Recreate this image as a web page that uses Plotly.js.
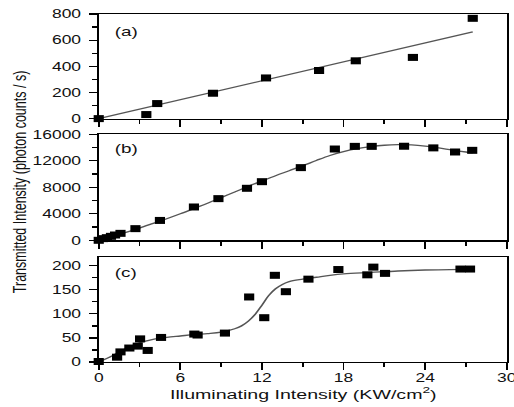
<!DOCTYPE html>
<html>
<head>
<meta charset="utf-8">
<script src="https://cdn.plot.ly/plotly-3.0.1.min.js"></script>
<style>
html,body{margin:0;padding:0;background:#fff;overflow:hidden;width:514px;height:407px;}
#plot{width:354px;height:407px;transform:scaleX(1.452);transform-origin:0 0;}
</style>
</head>
<body>
<div id="plot"></div>
<script>
// Panel (a)
const aX = [0, 3.5, 4.3, 8.4, 12.3, 16.2, 18.9, 23.1, 27.5];
const aY = [0, 31, 115, 194, 311, 368, 442, 468, 767];
const aFitX = [0, 27.5];
const aFitY = [0, 664];

// Panel (b)
const bX = [0, 0.3, 0.6, 0.9, 1.2, 1.6, 2.7, 4.5, 7.0, 8.8, 10.9, 12.0, 14.86, 17.36, 18.83, 20.07, 22.45, 24.6, 26.2, 27.46];
const bY = [0, 250, 400, 600, 800, 1050, 1760, 3000, 5030, 6290, 7850, 8850, 10970, 13780, 14180, 14180, 14200, 13950, 13330, 13580];
const bFitX = [0, 1, 2, 3, 4, 5, 6, 7, 8, 9, 10, 11, 12, 13, 14, 15, 16, 17, 18, 19, 20, 21, 22, 23, 24, 25, 26, 27, 27.5];
const bFitY = [0, 600, 1200, 1850, 2550, 3250, 4000, 4800, 5600, 6450, 7300, 8150, 8950, 9750, 10500, 11250, 12050, 12800, 13400, 13850, 14150, 14350, 14430, 14400, 14230, 13950, 13620, 13330, 13200];

// Panel (c)
const cX = [0, 1.35, 1.6, 2.25, 2.87, 3.04, 3.6, 4.58, 7.03, 7.27, 9.28, 11.06, 12.17, 12.95, 13.76, 15.42, 17.62, 19.75, 20.19, 21.05, 26.6, 27.3];
const cY = [1, 10, 21, 29, 33, 48, 24, 51, 58, 56, 60, 135, 92, 180, 146, 172, 192, 181, 197, 184, 193, 193];
const cFitX = [0, 1, 2, 3, 4, 5, 6, 7, 8, 9, 10, 10.5, 11, 11.5, 12, 12.5, 13, 13.5, 14, 15, 16, 17, 18, 20, 22, 24, 27.5];
const cFitY = [0, 13, 28, 40, 47, 51, 54, 57, 59, 62, 69, 75, 85, 99, 118, 138, 152, 161, 167, 172, 176, 180, 183, 186, 189, 191, 193];

const panelLabels = ['(a)', '(b)', '(c)'];
const xTitle = 'Illuminating Intensity (KW/cm<sup>2</sup>)';
const yTitle = 'Transmitted Intensity (photon counts / s)';

const FONT = 'Liberation Sans, Arial, Helvetica, sans-serif';
const mk = {symbol: 'square', size: 7, color: '#000', line: {width: 0}};
const fitLine = {color: '#555', width: 1.3};

const traces = [
  {x: aFitX, y: aFitY, xaxis: 'x', yaxis: 'y', mode: 'lines', line: fitLine, hoverinfo: 'skip'},
  {x: aX, y: aY, xaxis: 'x', yaxis: 'y', mode: 'markers', marker: mk, cliponaxis: false},
  {x: bFitX, y: bFitY, xaxis: 'x2', yaxis: 'y2', mode: 'lines', line: Object.assign({shape: 'spline'}, fitLine), hoverinfo: 'skip'},
  {x: bX, y: bY, xaxis: 'x2', yaxis: 'y2', mode: 'markers', marker: mk, cliponaxis: false},
  {x: cFitX, y: cFitY, xaxis: 'x3', yaxis: 'y3', mode: 'lines', line: Object.assign({shape: 'spline'}, fitLine), hoverinfo: 'skip'},
  {x: cX, y: cY, xaxis: 'x3', yaxis: 'y3', mode: 'markers', marker: mk, cliponaxis: false}
];

function xax(anchor, labels) {
  return {
    domain: [0, 1], anchor: anchor, range: [0, 30], tick0: 0, dtick: 6,
    showline: true, mirror: true, linecolor: '#000', linewidth: 1.3,
    ticks: 'outside', ticklen: 7, tickwidth: 1.3, tickcolor: '#000',
    minor: {ticks: 'outside', ticklen: 4, dtick: 3, tick0: 0, tickwidth: 1.3, tickcolor: '#000'},
    showgrid: false, zeroline: false, showticklabels: labels,
    ticklabeloverflow: 'allow', ticklabelstandoff: -3,
    tickfont: {family: FONT, size: 12, color: '#111'}
  };
}
function yax(anchor, domain, range, dtick) {
  return {
    domain: domain, anchor: anchor, range: range, tick0: 0, dtick: dtick,
    showline: true, mirror: true, linecolor: '#000', linewidth: 1.3,
    ticks: 'outside', ticklen: 5.5, tickwidth: 1.3, tickcolor: '#000',
    minor: {ticks: 'outside', ticklen: 3, dtick: dtick / 2, tick0: 0, tickwidth: 1.3, tickcolor: '#000'},
    showgrid: false, zeroline: false, tickformat: 'd',
    tickfont: {family: FONT, size: 12, color: '#111'}, ticklabelstandoff: 3
  };
}

const layout = {
  width: 354, height: 407,
  margin: {l: 68.4, r: 4.5, t: 14, b: 45},
  paper_bgcolor: '#fff', plot_bgcolor: '#fff',
  showlegend: false,
  font: {family: FONT, color: '#111'},
  xaxis: xax('y', false),
  yaxis: yax('x', [0.6994, 1], [0, 800], 200),
  xaxis2: xax('y2', false),
  yaxis2: yax('x2', [0.3497, 0.6543], [0, 16000], 4000),
  xaxis3: xax('y3', true),
  yaxis3: yax('x3', [0, 0.3017], [0, 218], 50),
  annotations: [
    {text: panelLabels[0], xref: 'x', yref: 'y', x: 1.0, y: 670, xanchor: 'left', yanchor: 'middle', showarrow: false, font: {family: FONT, size: 13, color: '#111'}},
    {text: panelLabels[1], xref: 'x2', yref: 'y2', x: 1.0, y: 13880, xanchor: 'left', yanchor: 'middle', showarrow: false, font: {family: FONT, size: 13, color: '#111'}},
    {text: panelLabels[2], xref: 'x3', yref: 'y3', x: 1.0, y: 186, xanchor: 'left', yanchor: 'middle', showarrow: false, font: {family: FONT, size: 13, color: '#111'}},
    {text: xTitle, xref: 'paper', yref: 'paper', x: 0.5, y: -0.088, xanchor: 'center', yanchor: 'middle', showarrow: false, font: {family: FONT, size: 13.5, color: '#111'}},
    {text: yTitle, xref: 'paper', yref: 'paper', x: -0.194, y: 0.518, xanchor: 'center', yanchor: 'middle', textangle: -90, showarrow: false, font: {family: FONT, size: 12.5, color: '#111'}}
  ]
};

Plotly.newPlot('plot', traces, layout, {displayModeBar: false, staticPlot: true});
</script>
</body>
</html>
